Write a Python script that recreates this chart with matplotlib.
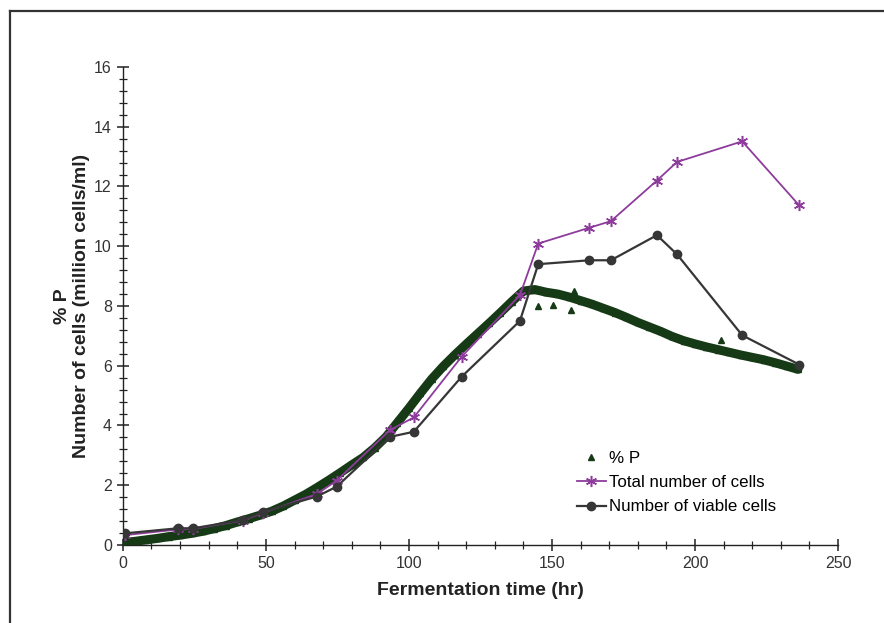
import matplotlib
matplotlib.use("Agg")
import matplotlib.pyplot as plt
from matplotlib.lines import Line2D

plt.rcParams['font.family'] = ['Liberation Sans', 'DejaVu Sans']

# %P readings (fermentation time in hr)
p_time = [0, 4, 8, 12, 16, 20, 24, 28, 32, 36, 40, 44, 48, 52, 56, 60, 64, 68,
          72, 76, 80, 84, 88, 92, 96, 100, 104, 108, 112, 116, 120, 124, 128,
          132, 136, 140, 144, 148, 152, 156, 160, 164, 168, 172, 176, 180, 184,
          188, 192, 196, 200, 204, 208, 212, 216, 220, 224, 228, 232, 236]
p_val = [0.08, 0.12, 0.17, 0.22, 0.28, 0.33, 0.39, 0.46, 0.55, 0.65, 0.77, 0.88,
         1.0, 1.13, 1.3, 1.5, 1.7, 1.93, 2.17, 2.42, 2.68, 2.93, 3.25, 3.62, 4.1,
         4.58, 5.08, 5.56, 5.98, 6.36, 6.72, 7.07, 7.42, 7.78, 8.15, 8.5, 8.55,
         8.46, 8.4, 8.3, 8.18, 8.06, 7.92, 7.78, 7.62, 7.45, 7.3, 7.15, 6.98,
         6.84, 6.73, 6.63, 6.54, 6.45, 6.36, 6.28, 6.2, 6.1, 5.99, 5.88]
# stray %P points off the main band
p_odd_time = [145, 150.5, 156.6, 157.8, 209]
p_odd_val = [8.0, 8.03, 7.88, 8.5, 6.86]

cell_time = [0.7, 19.3, 24.6, 42, 49, 67.7, 74.7, 93.4, 101.7, 118.4, 138.8,
             145.2, 163.1, 170.6, 186.7, 193.7, 216.5, 236.4]
total_cells = [0.33, 0.52, 0.54, 0.82, 1.08, 1.7, 2.15, 3.85, 4.27, 6.3, 8.36,
               10.09, 10.62, 10.84, 12.2, 12.82, 13.51, 11.37]
viable_cells = [0.39, 0.56, 0.56, 0.84, 1.11, 1.62, 1.95, 3.62, 3.79, 5.63, 7.5,
                9.4, 9.53, 9.53, 10.37, 9.73, 7.02, 6.04]

green = '#163a16'
purple = '#8e3c9c'
grey = '#363636'

fig = plt.figure(figsize=(8.84, 6.23), dpi=100)
ax = fig.add_axes([0.139, 0.1252, 0.809, 0.7673])

ax.plot(p_time, p_val, color=green, lw=6.5, solid_capstyle='round', zorder=2,
        label='_nolegend_')
ax.plot(p_time + p_odd_time, p_val + p_odd_val, ls='none', marker='^', ms=5,
        color=green, zorder=3, label='% P')
ax.plot(cell_time, total_cells, color=purple, lw=1.3, marker=(6, 2, 0), ms=8,
        mew=1.1, zorder=4, label='Total number of cells')
ax.plot(cell_time, viable_cells, color=grey, lw=1.6, marker='o', ms=6,
        zorder=5, label='Number of viable cells')

ax.set_xlim(0, 250)
ax.set_ylim(0, 16)
ax.set_xticks(range(0, 251, 50))
ax.set_xticks(range(0, 251, 10), minor=True)
ax.set_yticks(range(0, 17, 2))
ax.set_yticks([i * 0.4 for i in range(41)], minor=True)

for s in ['top', 'right']:
    ax.spines[s].set_visible(False)
for s in ['left', 'bottom']:
    ax.spines[s].set_linewidth(1.0)
    ax.spines[s].set_color('#222222')

ax.tick_params(which='major', direction='inout', length=8, width=1.1,
               labelsize=11.5, colors='#222222', labelcolor='#333333', pad=4)
ax.tick_params(which='minor', direction='inout', length=6, width=0.9,
               colors='#222222')

ax.set_xlabel('Fermentation time (hr)', fontsize=14, fontweight='bold',
              color='#222222', labelpad=8)
ax.set_ylabel('% P\nNumber of cells (million cells/ml)', fontsize=14,
              fontweight='bold', color='#222222', labelpad=3, linespacing=1.15)

ax.legend(loc='upper left', bbox_to_anchor=(0.635, 0.197), frameon=False,
          fontsize=12.2, handlelength=1.7, handletextpad=0.2, labelspacing=0.55,
          borderpad=0, borderaxespad=0)

# page frame (left and top edges only)
fig.add_artist(Line2D([0.0113, 0.0113], [-0.1, 0.9823], color='#333333',
                      lw=1.6, transform=fig.transFigure))
fig.add_artist(Line2D([0.0113, 1.1], [0.9823, 0.9823], color='#333333',
                      lw=1.6, transform=fig.transFigure))

fig.savefig('out.png', dpi=100)
